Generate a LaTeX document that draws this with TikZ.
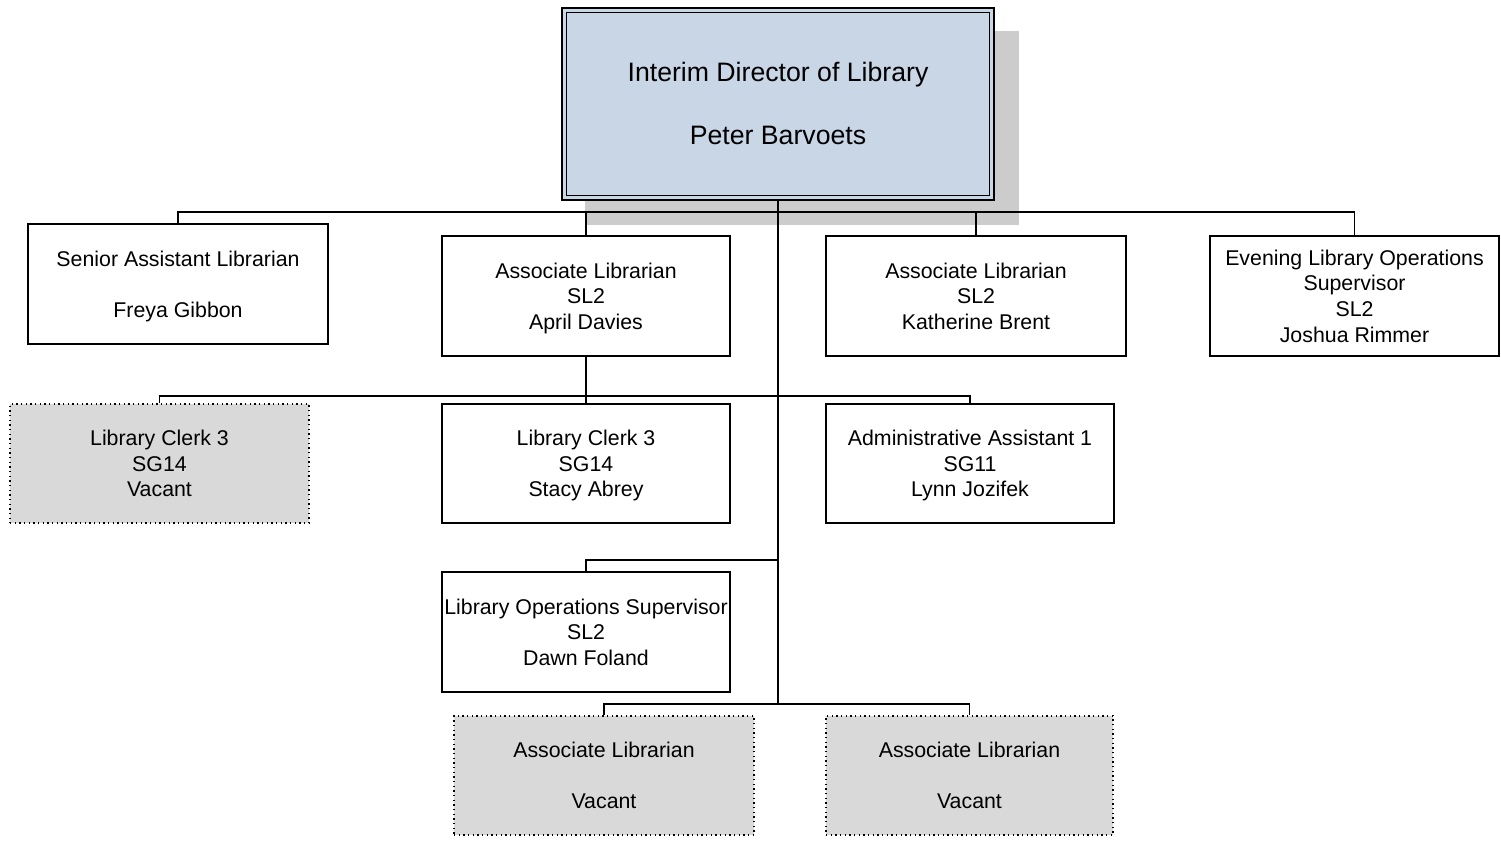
\documentclass[tikz,border=0pt]{standalone}
\usepackage{fontspec}
\setmainfont{Liberation Sans}
\definecolor{dirblue}{RGB}{201,214,230}
\definecolor{vacgray}{RGB}{217,217,217}
\definecolor{shadowgray}{RGB}{204,204,204}
\newcommand\orgtop{\rule{0pt}{17.2pt}}
\newcommand\orgdirtop{\rule{0pt}{21pt}}
\tikzset{
  role/.style={draw=black, line width=1.1pt, fill=white, align=center, inner sep=0pt,
    font=\fontsize{16pt}{19.2pt}\selectfont, minimum height=90pt},
  vacant/.style={role, fill=vacgray, line width=0.9pt, dash pattern=on 0.9pt off 2.6pt, minimum height=89.25pt},
  director/.style={draw=black, line width=1.3pt, fill=dirblue, align=center, inner sep=0pt,
    font=\fontsize{20pt}{23.5pt}\selectfont, minimum width=324pt, minimum height=144pt},
  link/.style={draw=black, line width=1.1pt},
}
\begin{document}
\begin{tikzpicture}[x=0.75pt, y=-0.75pt]
\useasboundingbox (0,0) rectangle (1501,845);
% shadow of the director box
\fill[shadowgray] (585,31) rectangle (1019,225);
% director
\node[director] (dir) at (778,104) {\orgdirtop Interim Director of Library\\[23.5pt]Peter Barvoets\strut};
\draw[line width=0.8pt] ([shift={(5,5)}]dir.north west) rectangle ([shift={(-5,-5)}]dir.south east);
% first row
\node[role, minimum width=225pt] (sen) at (178,284) {\orgtop Senior Assistant Librarian\\[19.2pt]Freya Gibbon\strut};
\node[role, minimum width=216pt] (ap) at (586,296) {\orgtop Associate Librarian\\SL2\\April Davies\strut};
\node[role, minimum width=225pt] (kb) at (976,296) {\orgtop Associate Librarian\\SL2\\Katherine Brent\strut};
\node[role, minimum width=216.75pt] (evn) at (1354.5,296) {\orgtop Evening Library Operations\\Supervisor\\SL2\\Joshua Rimmer\strut};
% second row
\node[vacant, minimum width=224.25pt] (lc) at (159.5,463.5) {\orgtop Library Clerk 3\\SG14\\Vacant\strut};
\node[role, minimum width=216pt, minimum height=89.25pt] (st) at (586,463.5) {\orgtop Library Clerk 3\\SG14\\Stacy Abrey\strut};
\node[role, minimum width=216pt, minimum height=89.25pt] (aa) at (970,463.5) {\orgtop Administrative Assistant 1\\SG11\\Lynn Jozifek\strut};
% third row
\node[role, minimum width=216pt] (df) at (586,632) {\orgtop Library Operations Supervisor\\SL2\\Dawn Foland\strut};
% bottom row
\node[vacant, minimum width=225pt] (v1) at (604,775.5) {\orgtop Associate Librarian\\[19.2pt]Vacant\strut};
\node[vacant, minimum width=215.25pt] (v2) at (969.5,775.5) {\orgtop Associate Librarian\\[19.2pt]Vacant\strut};
% connector points
\coordinate (b1) at (778,212);
\coordinate (b2) at (586,396);
\coordinate (t2) at (778,560);
\coordinate (t3) at (778,704);
% connectors
\draw[link] (dir.south) -- (t3);
\draw[link] (sen.north) |- (b1) -| (evn.north);
\draw[link] (ap.north) -- (ap.north |- b1);
\draw[link] (kb.north) -- (kb.north |- b1);
\draw[link] (ap.south) -- (st.north);
\draw[link] (lc.north) |- (b2) -| (aa.north);
\draw[link] (t2) -| (df.north);
\draw[link] (v1.north) |- (t3) -| (v2.north);
\end{tikzpicture}
\end{document}
